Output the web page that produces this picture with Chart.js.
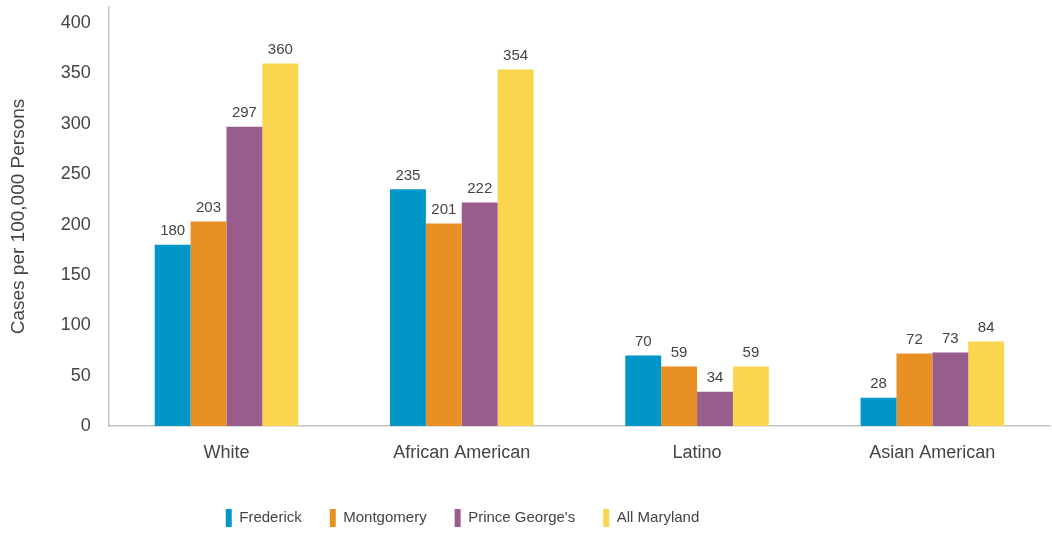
<!DOCTYPE html>
<html>
<head>
<meta charset="utf-8">
<script src="https://cdn.jsdelivr.net/npm/chart.js@4"></script>
<style>
  html, body { margin: 0; padding: 0; background: #fff; }
  #wrap { width: 1052px; height: 534px; position: relative; }
</style>
</head>
<body>
<div id="wrap"><canvas id="chart"></canvas></div>
<script>
// Rates of cases per 100,000 persons by race/ethnicity
const categories = ['White', 'African American', 'Latino', 'Asian American'];
const frederick = [180, 235, 70, 28];
const montgomery = [203, 201, 59, 72];
const princeGeorges = [297, 222, 34, 73];
const allMaryland = [360, 354, 59, 84];
const seriesNames = ['Frederick', 'Montgomery', "Prince George's", 'All Maryland'];
const seriesColors = ['#0096C8', '#E99025', '#985C8D', '#FAD64E'];
const yTicks = [0, 50, 100, 150, 200, 250, 300, 350, 400];

const FONT = "'Liberation Sans', Arial, sans-serif";

// Writes each bar's value just above its top
const valueLabels = {
  id: 'valueLabels',
  afterDatasetsDraw(chart) {
    const ctx = chart.ctx;
    ctx.save();
    ctx.font = '15px ' + FONT;
    ctx.fillStyle = '#444';
    ctx.textAlign = 'center';
    ctx.textBaseline = 'bottom';
    chart.data.datasets.forEach((ds, i) => {
      chart.getDatasetMeta(i).data.forEach((bar, j) => {
        ctx.fillText(String(ds.data[j]), bar.x, bar.y - 6);
      });
    });
    ctx.restore();
  }
};

// Centres the legend row a little left of the page centre
const legendShift = {
  id: 'legendShift',
  afterLayout(chart) {
    const lg = chart.legend;
    if (lg) { lg.left = 0; lg.right = 925; }
  }
};

const seriesData = [frederick, montgomery, princeGeorges, allMaryland];

new Chart(document.getElementById('chart'), {
  type: 'bar',
  data: {
    labels: categories,
    datasets: seriesData.map((d, i) => ({
      label: seriesNames[i],
      data: d,
      backgroundColor: seriesColors[i],
      borderWidth: 0,
      barPercentage: 1.0,
      categoryPercentage: 0.61
    }))
  },
  options: {
    responsive: true,
    maintainAspectRatio: false,
    animation: false,
    layout: { padding: { top: 7, right: 2, left: 0, bottom: -3 } },
    plugins: {
      tooltip: { enabled: false },
      legend: {
        position: 'bottom',
        labels: {
          boxWidth: 6,
          boxHeight: 18,
          padding: 28,
          color: '#444',
          font: { family: FONT, size: 15 }
        }
      }
    },
    scales: {
      x: {
        grid: { display: false },
        border: { display: true, color: '#c4c4c4', width: 1.5 },
        ticks: { color: '#444', padding: 8, font: { family: FONT, size: 18 } },
        afterFit(scale) { scale.height = 55; }
      },
      y: {
        min: 0,
        max: 416,
        afterBuildTicks(scale) { scale.ticks = yTicks.map(v => ({ value: v })); },
        afterFit(scale) { scale.paddingTop = 0; scale.paddingBottom = 0; },
        grid: { display: false },
        border: { display: true, color: '#c4c4c4', width: 1.5 },
        ticks: { color: '#444', padding: 10, font: { family: FONT, size: 18 } },
        title: {
          display: true,
          text: 'Cases per 100,000 Persons',
          color: '#444',
          font: { family: FONT, size: 19 },
          padding: { top: 7, bottom: 21 }
        }
      }
    }
  },
  plugins: [valueLabels, legendShift]
});
</script>
</body>
</html>
